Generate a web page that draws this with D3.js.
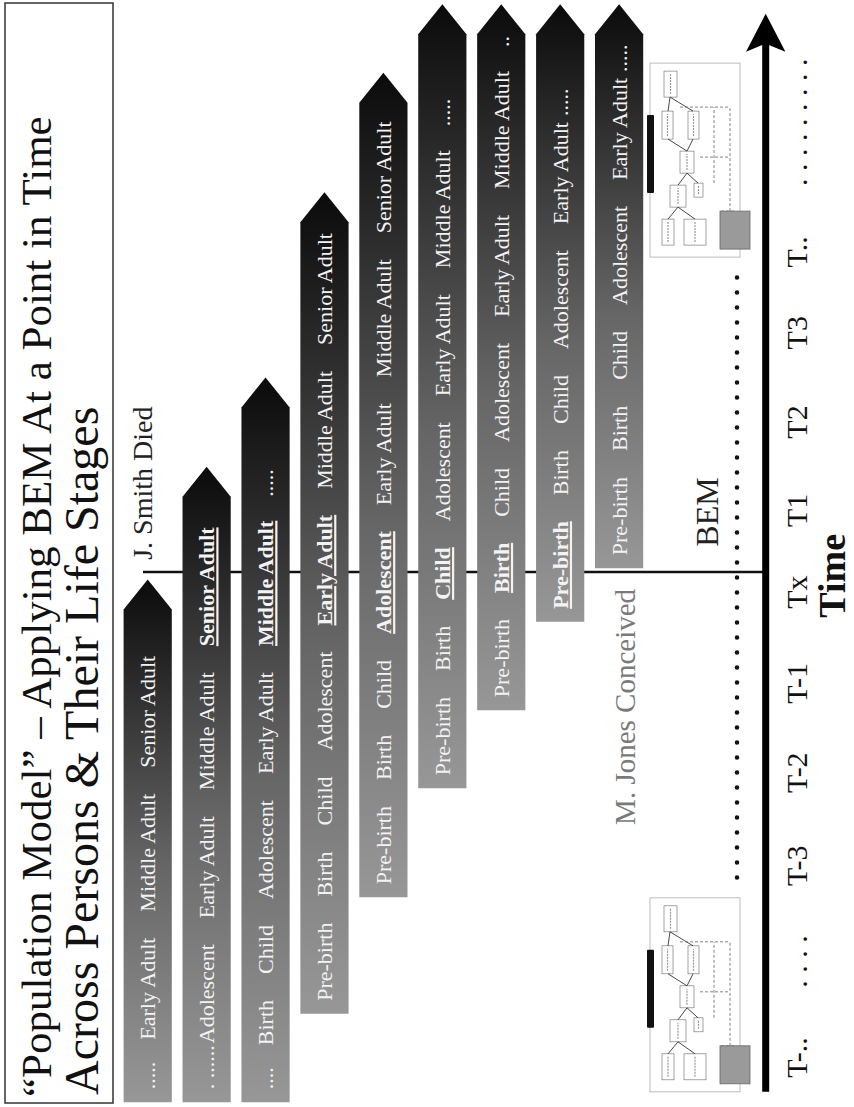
<!DOCTYPE html>
<html>
<head>
<meta charset="utf-8">
<script src="https://cdn.jsdelivr.net/npm/d3@7"></script>
<style>
  body { margin: 0; background: #fff; }
  svg { display: block; }
  text { font-family: "Liberation Serif", "Times New Roman", serif; }
</style>
</head>
<body>
<div id="chart"></div>
<script>
// 1. data: life stages of nine persons along a time line
const lifeStages = ["Pre-birth", "Birth", "Child", "Adolescent", "Early Adult", "Middle Adult", "Senior Adult"];
const firstStage = [4, 3, 1, 0, 0, 0, 0, 0, 0];   // first stage shown per person
const lastStage = [6, 6, 5, 6, 6, 5, 5, 4, 4];    // last stage shown per person
const leadText = ["..... ", ". ......", ".... ", "", "", "", "", "", ""];
const trailText = ["", "", "  .....", "", "", "  .....", "  ..", " .....", " ....."];
const stageAtTx = [-1, 6, 5, 4, 3, 2, 1, 0, -1]; // stage in effect at Tx (bold)
const lifeStart = [-5.64, -5.64, -5.64, -4.70, -3.46, -2.30, -1.47, -0.53, 0.04];
const lifeEnd = [-0.08, 1.12, 2.07, 4.04, 5.31, 6.04, 6.04, 6.04, 6.04];

const tickLabels = ["T-..", ". . . .", "T-3", "T-2", "T-1", "Tx", "T1", "T2", "T3", "T..", ". . . . . . . . ."];
const tickPos = [-5.17, -4.15, -3.13, -2.14, -1.19, -0.22, 0.65, 1.59, 2.54, 3.40, 4.78];

const eventLabels = ["J. Smith Died", "BEM", "M. Jones Conceived"];
const eventPos = [0.13, 0.27, -2.69];
const bemSpan = [-3.25, 3.15];
const thumbPos = [-5.53, 3.35];
const axisSpan = [-5.53, 5.94];

// 2. layout: the slide is drawn sideways (rotated -90deg)
const W = 854, H = 1107;
const svg = d3.select("#chart").append("svg")
  .attr("width", W)
  .attr("height", H);

const g = svg.append("g")
  .attr("transform", `translate(0,${H}) rotate(-90)`); // slide coords: u along time, v across

// 3. scales
const x = d3.scaleLinear().domain([0, 1]).range([535, 629]); // time units -> slide u
const y = d3.scaleBand()
  .domain(d3.range(firstStage.length))
  .range([123.6, 643.2])
  .paddingInner(0.182)
  .paddingOuter(0);

// gradient for the life bars (light at birth end, dark at arrow tip)
const defs = svg.append("defs");
const grad = defs.append("linearGradient")
  .attr("id", "lifeGrad")
  .attr("x1", 0).attr("y1", 0).attr("x2", 1).attr("y2", 0);
grad.append("stop").attr("offset", 0).attr("stop-color", "#979797");
grad.append("stop").attr("offset", 0.45).attr("stop-color", "#666");
grad.append("stop").attr("offset", 1).attr("stop-color", "#0b0b0b");

// 4. title box
g.append("rect")
  .attr("x", 4).attr("y", 5)
  .attr("width", 1100).attr("height", 108)
  .attr("fill", "none")
  .attr("stroke", "#333")
  .attr("stroke-width", 1.5);

g.append("text")
  .attr("x", 10).attr("y", 51)
  .attr("font-size", 43)
  .attr("fill", "#111")
  .text("\u201CPopulation Model\u201D \u2013 Applying BEM At a Point in Time");

g.append("text")
  .attr("x", 12).attr("y", 98)
  .attr("font-size", 48)
  .attr("fill", "#111")
  .text("Across Persons & Their Life Stages");

// 5. Tx event line (behind the bars)
g.append("line")
  .attr("x1", x(0)).attr("x2", x(0))
  .attr("y1", 143).attr("y2", 765)
  .attr("stroke", "#111")
  .attr("stroke-width", 2.7);

// 6. life bars with arrow heads
const head = 30;
const barPath = i => {
  const u0 = x(lifeStart[i]), u1 = x(lifeEnd[i]);
  const v0 = y(i), v1 = y(i) + y.bandwidth();
  return `M${u0},${v0}L${u1 - head},${v0}L${u1},${(v0 + v1) / 2}L${u1 - head},${v1}L${u0},${v1}Z`;
};

g.selectAll(".life")
  .data(d3.range(firstStage.length))
  .enter()
  .append("path")
  .attr("class", "life")
  .attr("d", barPath)
  .attr("fill", "url(#lifeGrad)");

// stage labels inside bars
const tokens = i => {
  const out = [];
  const lead = leadText[i];
  if (lead.trim()) out.push({ text: lead.trim(), gap: 0, bold: false });
  for (let s = firstStage[i]; s <= lastStage[i]; s++) {
    let gap = 26;
    if (s === firstStage[i]) gap = lead.trim() ? (lead.endsWith(" ") ? 22 : 2) : 0;
    out.push({ text: lifeStages[s], gap: gap, bold: s === stageAtTx[i] });
  }
  const trail = trailText[i];
  if (trail.trim()) out.push({ text: trail.trim(), gap: trail.startsWith("  ") ? 24 : 6, bold: false });
  return out;
};

const labels = g.selectAll(".stage")
  .data(d3.range(firstStage.length))
  .enter()
  .append("text")
  .attr("class", "stage")
  .attr("x", i => x(lifeStart[i]) + 13)
  .attr("y", i => y(i) + y.bandwidth() / 2)
  .attr("dy", "0.35em")
  .attr("font-size", 22)
  .attr("fill", "#f3f3f3");

labels.selectAll("tspan")
  .data(i => tokens(i))
  .enter()
  .append("tspan")
  .attr("dx", d => d.gap)
  .attr("font-weight", d => d.bold ? "bold" : null)
  .attr("text-decoration", d => d.bold ? "underline" : null)
  .style("text-decoration", d => d.bold ? "underline" : null)
  .text(d => d.text);

// 7. event labels and BEM dotted span
const eventStyle = [
  { v: 152, size: 28, fill: "#222" },
  { v: 718, size: 32, fill: "#222" },
  { v: 635, size: 29, fill: "#7a7a7a" }
];
g.selectAll(".event")
  .data(eventLabels)
  .enter()
  .append("text")
  .attr("class", "event")
  .attr("x", (d, i) => x(eventPos[i]))
  .attr("y", (d, i) => eventStyle[i].v)
  .attr("font-size", (d, i) => eventStyle[i].size)
  .attr("fill", (d, i) => eventStyle[i].fill)
  .text(d => d);

g.append("line")
  .attr("x1", x(bemSpan[0])).attr("x2", x(bemSpan[1]))
  .attr("y1", 737).attr("y2", 737)
  .attr("stroke", "#111")
  .attr("stroke-width", 4.6)
  .attr("stroke-linecap", "round")
  .attr("stroke-dasharray", "0 15");

// 8. BEM diagram thumbnails
const drawThumb = u0 => {
  const t = g.append("g").attr("transform", `translate(${u0},650)`);
  t.append("rect").attr("width", 194).attr("height", 90)
    .attr("fill", "#fff").attr("stroke", "#b5b5b5").attr("stroke-width", 0.9);
  const boxes = [[12, 12, 26, 12], [12, 34, 26, 22], [50, 20, 22, 16], [60, 44, 14, 9],
    [84, 30, 22, 14], [118, 12, 28, 11], [118, 38, 28, 11], [160, 14, 26, 13]];
  t.selectAll(".bx").data(boxes).enter().append("rect")
    .attr("x", d => d[0]).attr("y", d => d[1])
    .attr("width", d => d[2]).attr("height", d => d[3])
    .attr("fill", "#fff").attr("stroke", "#666").attr("stroke-width", 0.6);
  boxes.forEach(d => {
    t.append("line").attr("x1", d[0] + 3).attr("x2", d[0] + d[2] - 3)
      .attr("y1", d[1] + d[3] / 2).attr("y2", d[1] + d[3] / 2)
      .attr("stroke", "#999").attr("stroke-width", 1.2).attr("stroke-dasharray", "2 1");
  });
  const links = [[38, 18, 50, 28], [38, 45, 50, 28], [72, 28, 84, 37], [74, 48, 84, 37],
    [106, 37, 118, 18], [106, 37, 118, 43], [146, 18, 160, 20], [146, 43, 160, 20]];
  t.selectAll(".ln").data(links).enter().append("line")
    .attr("x1", d => d[0]).attr("y1", d => d[1])
    .attr("x2", d => d[2]).attr("y2", d => d[3])
    .attr("stroke", "#333").attr("stroke-width", 0.9);
  const dashes = [[46, 80, 150, 80], [74, 64, 150, 64], [150, 30, 150, 80], [100, 50, 100, 80], [46, 84, 46, 70]];
  t.selectAll(".ds").data(dashes).enter().append("line")
    .attr("x1", d => d[0]).attr("y1", d => d[1])
    .attr("x2", d => d[2]).attr("y2", d => d[3])
    .attr("stroke", "#777").attr("stroke-width", 0.9).attr("stroke-dasharray", "3 2");
  t.append("rect").attr("x", 64).attr("y", -3).attr("width", 78).attr("height", 7)
    .attr("rx", 1).attr("fill", "#111");
  t.append("rect").attr("x", 8).attr("y", 70).attr("width", 38).attr("height", 30)
    .attr("fill", "#9a9a9a").attr("stroke", "#666").attr("stroke-width", 0.8);
};
thumbPos.forEach(p => drawThumb(x(p)));

// 9. time axis
g.append("line")
  .attr("x1", x(axisSpan[0])).attr("x2", x(axisSpan[1]) - 30)
  .attr("y1", 765.7).attr("y2", 765.7)
  .attr("stroke", "#000")
  .attr("stroke-width", 7);

const tip = x(axisSpan[1]);
g.append("path")
  .attr("d", `M${tip},765.7L${tip - 38},746L${tip - 30},765.7L${tip - 38},785.4Z`)
  .attr("fill", "#000");

const axis = d3.axisBottom(x)
  .tickValues(tickPos)
  .tickFormat((d, i) => tickLabels[i])
  .tickSize(0)
  .tickPadding(21);

const ax = g.append("g")
  .attr("transform", "translate(0,765)")
  .call(axis);
ax.select(".domain").remove();
ax.selectAll("text")
  .attr("font-size", 30)
  .attr("fill", "#111");

g.append("text")
  .attr("x", x(-0.04))
  .attr("y", 845)
  .attr("text-anchor", "middle")
  .attr("font-size", 38)
  .attr("font-weight", "bold")
  .attr("fill", "#111")
  .text("Time");
</script>
</body>
</html>
